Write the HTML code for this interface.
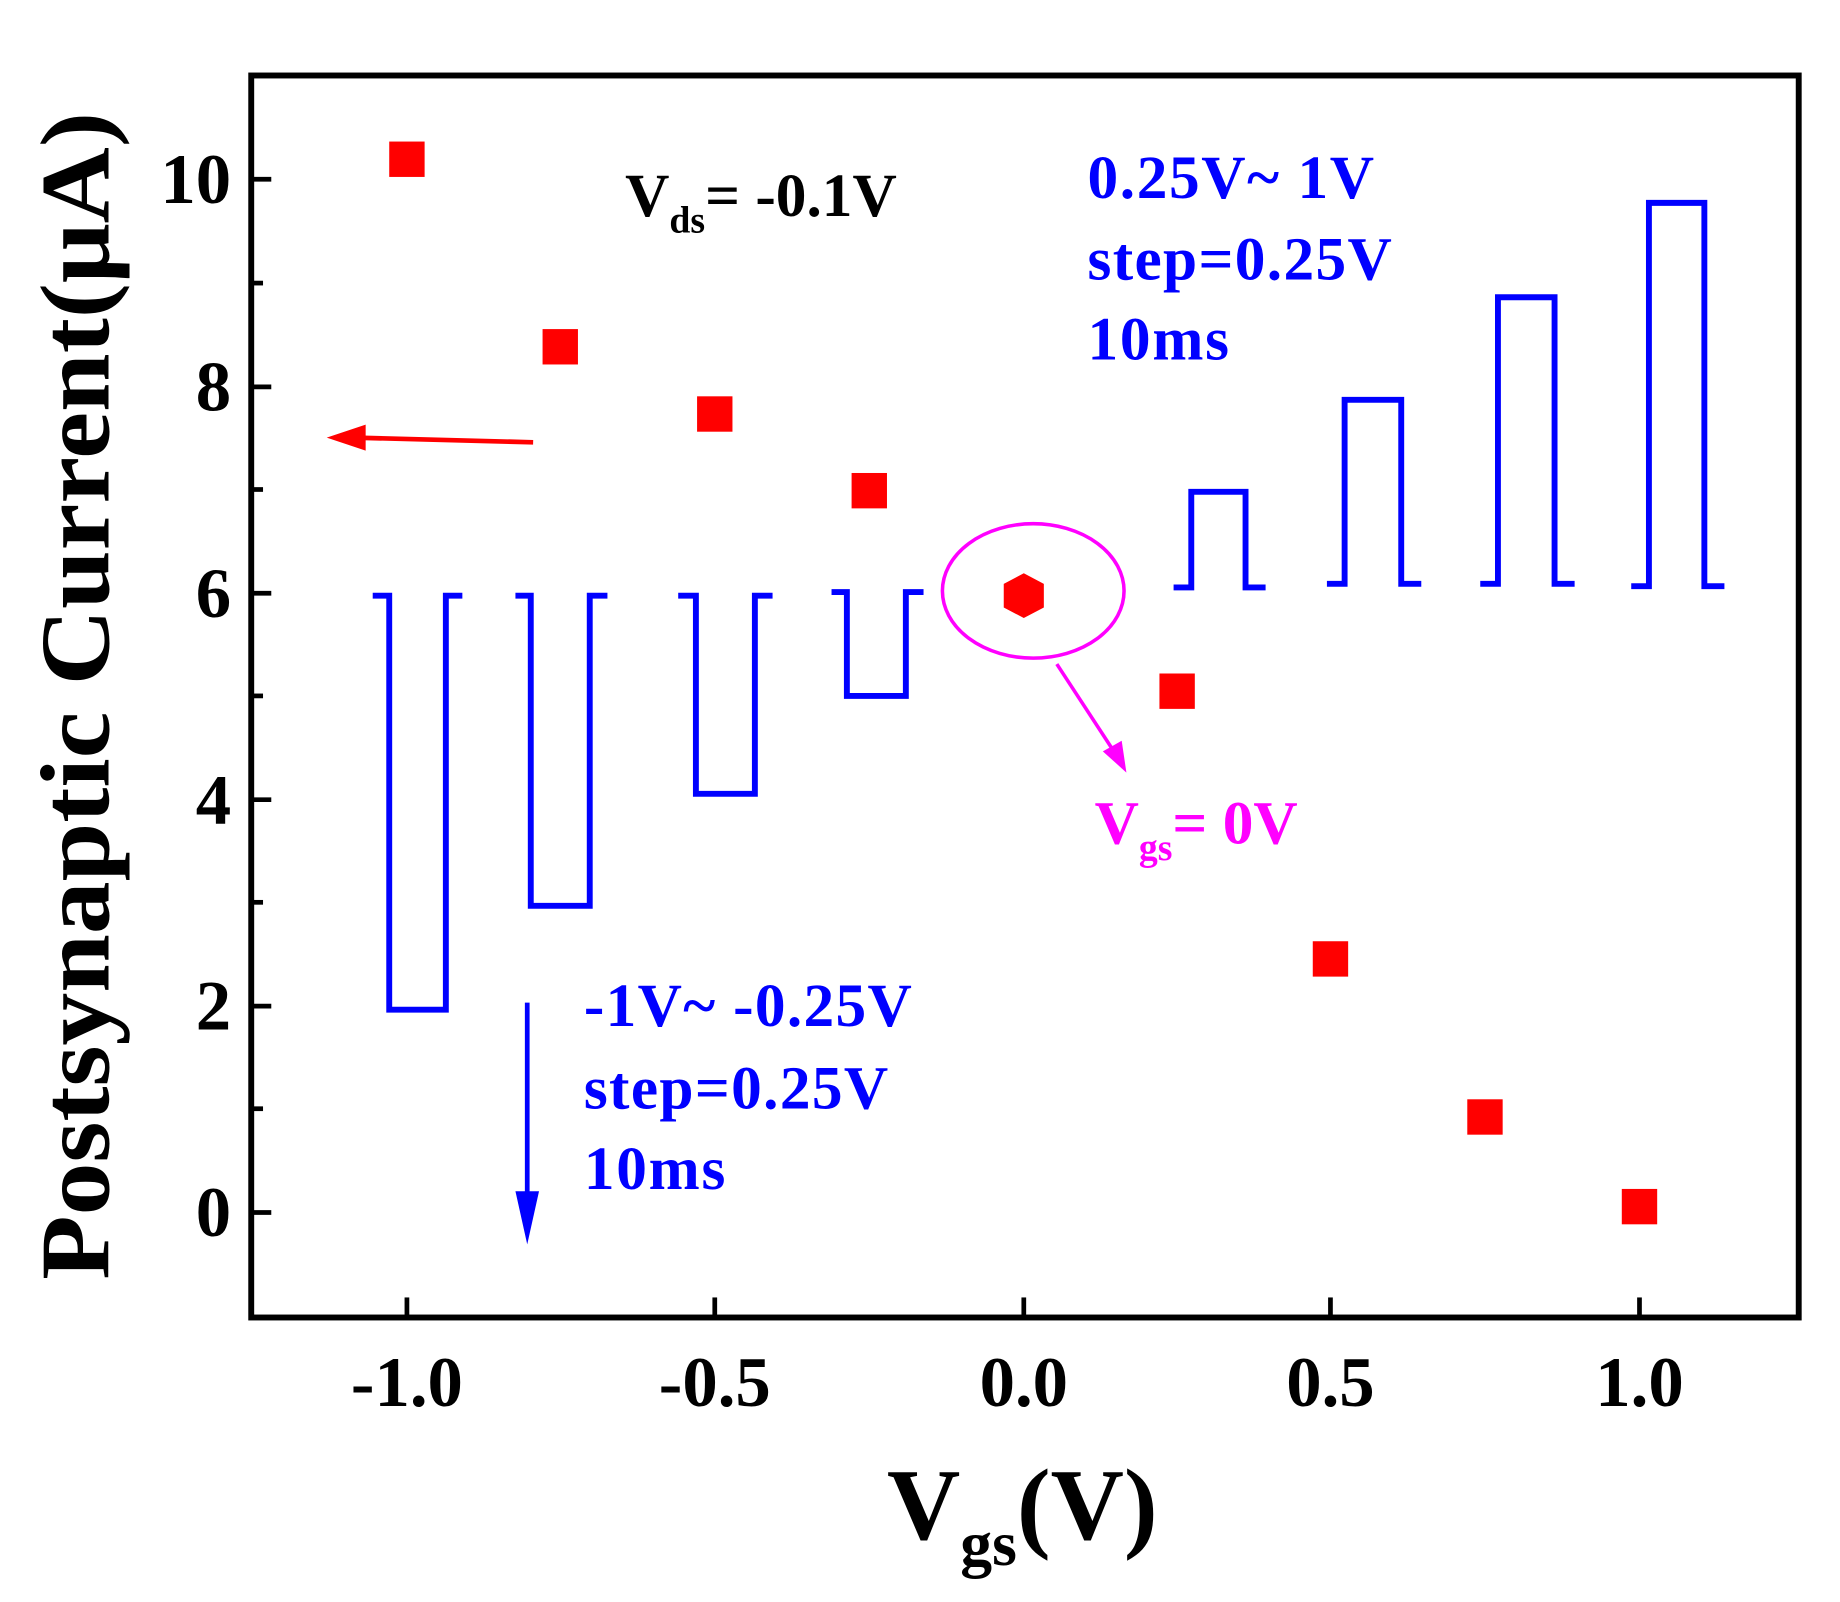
<!DOCTYPE html>
<html><head><meta charset="utf-8"><style>html,body{margin:0;padding:0;background:#fff}svg{display:block}</style></head>
<body>
<svg width="1840" height="1602" viewBox="0 0 1560 1358.2" xmlns="http://www.w3.org/2000/svg" font-family="Liberation Serif, serif" font-weight="bold">
<rect x="213" y="64" width="1312" height="1053" fill="none" stroke="#000" stroke-width="5"/>
<g stroke="#000" stroke-width="4">
<line x1="213" y1="152" x2="230" y2="152"/><line x1="213" y1="328" x2="230" y2="328"/><line x1="213" y1="503" x2="230" y2="503"/><line x1="213" y1="678" x2="230" y2="678"/><line x1="213" y1="853" x2="230" y2="853"/><line x1="213" y1="1028" x2="230" y2="1028"/>
<line x1="213" y1="240" x2="223" y2="240"/><line x1="213" y1="415" x2="223" y2="415"/><line x1="213" y1="590" x2="223" y2="590"/><line x1="213" y1="765" x2="223" y2="765"/><line x1="213" y1="940" x2="223" y2="940"/>
<line x1="345" y1="1117" x2="345" y2="1100"/><line x1="606" y1="1117" x2="606" y2="1100"/><line x1="868" y1="1117" x2="868" y2="1100"/><line x1="1128" y1="1117" x2="1128" y2="1100"/><line x1="1390" y1="1117" x2="1390" y2="1100"/>
</g>
<g font-size="60" text-anchor="end">
<text x="196" y="172">10</text><text x="196" y="348">8</text><text x="196" y="523">6</text><text x="196" y="698">4</text><text x="196" y="873">2</text><text x="196" y="1048">0</text>
</g>
<g font-size="60" text-anchor="middle">
<text x="345" y="1192">-1.0</text><text x="606" y="1192">-0.5</text><text x="868" y="1192">0.0</text><text x="1128" y="1192">0.5</text><text x="1390" y="1192">1.0</text>
</g>
<text transform="translate(92,590) rotate(-90)" font-size="84" text-anchor="middle" textLength="990" lengthAdjust="spacingAndGlyphs">Postsynaptic Current(μA)</text>
<text x="752" y="1305" font-size="86">V<tspan font-size="54" dy="22">gs</tspan><tspan dy="-22">(V)</tspan></text>
<g fill="red">
<rect x="330" y="120" width="30" height="30"/><rect x="460" y="279" width="30" height="30"/><rect x="591" y="336" width="30" height="30"/><rect x="722" y="401" width="30" height="30"/><rect x="983" y="571" width="30" height="30"/><rect x="1113" y="798" width="30" height="30"/><rect x="1244" y="932" width="30" height="30"/><rect x="1375" y="1008" width="30" height="30"/>
<polygon points="868,486 885,495 885,515 868,524 851,515 851,495"/>
</g>
<g fill="none" stroke="#0000ff" stroke-width="5">
<polyline points="316,505 330,505 330,856 378,856 378,505 392,505"/>
<polyline points="437,505 450,505 450,768 500,768 500,505 515,505"/>
<polyline points="575,505 590,505 590,673 640,673 640,505 655,505"/>
<polyline points="705,502 718,502 718,590 768,590 768,502 783,502"/>
<polyline points="995,498 1010,498 1010,417 1056,417 1056,498 1073,498"/>
<polyline points="1125,495 1140,495 1140,339 1188,339 1188,495 1205,495"/>
<polyline points="1255,495 1270,495 1270,252 1318,252 1318,495 1335,495"/>
<polyline points="1383,497 1398,497 1398,172 1445,172 1445,497 1462,497"/>
<line x1="447" y1="850" x2="447" y2="1020" stroke-width="4"/>
</g>
<polygon points="437,1010 457,1010 447,1055" fill="#0000ff"/>
<line x1="452" y1="375" x2="300" y2="371" stroke="red" stroke-width="4"/>
<polygon points="277,371 310,360 310,382" fill="red"/>
<ellipse cx="876" cy="501" rx="77" ry="57" fill="none" stroke="#ff00ff" stroke-width="3"/>
<line x1="896" y1="563" x2="945" y2="638" stroke="#ff00ff" stroke-width="3"/>
<polygon points="955,655 935,637 951,628" fill="#ff00ff"/>
<text x="928" y="715" font-size="52" fill="#ff00ff">V<tspan font-size="32" dy="14">gs</tspan><tspan dy="-14">= 0V</tspan></text>
<text x="530" y="183" font-size="52" fill="#000">V<tspan font-size="32" dy="14">ds</tspan><tspan dy="-14">= -0.1V</tspan></text>
<g font-size="52" fill="#0000ff" lengthAdjust="spacingAndGlyphs">
<text x="922" y="168" textLength="243">0.25V~ 1V</text><text x="922" y="237" textLength="258">step=0.25V</text><text x="922" y="305" textLength="120">10ms</text>
<text x="495" y="870" textLength="278">-1V~ -0.25V</text><text x="495" y="940" textLength="258">step=0.25V</text><text x="495" y="1008" textLength="120">10ms</text>
</g>
</svg>
</body></html>
